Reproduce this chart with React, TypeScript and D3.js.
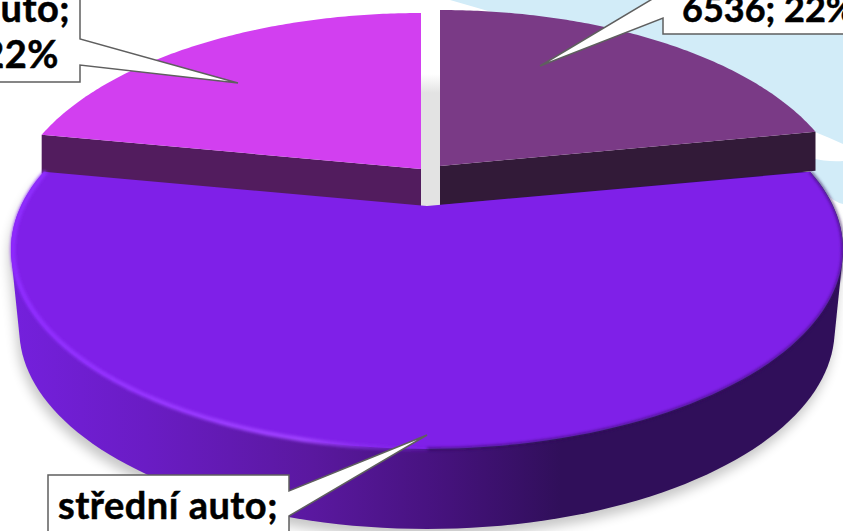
import * as d3 from "d3";

const categories = ["velké auto", "střední auto", "malé auto"];
const values = [6536, 16637, 6536];
const percents = [22, 56, 22];

const topColors = ["#7a3a86", "#7f20e8", "#d23ff0"];
const wallColors = ["#321a38", "#5a1aa0", "#521c5e"];

const width = 843;
const height = 531;
const fontFamily = "Lato, 'Open Sans', sans-serif";

// tilted disc, back of the circle is further away
const discX = 406;
const discY = 190;
const tilt = 0.218;

// apex of each slice on the page, the back two are pulled up and out
const apex = [
  { x: 440, y: 166, k: 0.98 },
  { x: 427, y: 206, k: 1 },
  { x: 421, y: 169, k: 0.99 },
];
const backWall = 39;
const frontWall = 80;

type Pt = [number, number];

const project = (angle: number, cx: number, cy: number, k = 1): Pt => {
  const u = Math.sin(angle);
  const v = -Math.cos(angle);
  const w = 1 - tilt * v;
  return [cx + (k * discX * u) / w, cy + (discY * v) / w];
};

const arcPoints = (a0: number, a1: number, cx: number, cy: number, k = 1): Pt[] =>
  d3.range(0, 121).map((i) => project(a0 + ((a1 - a0) * i) / 120, cx, cy, k));

const slices = d3.pie<number>().sort(null)(values);
const line = d3.line<Pt>();
const closed = (pts: Pt[]) => line(pts) + "Z";

const big = slices[1];
const bigTop = arcPoints(big.startAngle, big.endAngle, apex[1].x, apex[1].y);
const bigBottom = arcPoints(big.startAngle, big.endAngle, apex[1].x, apex[1].y + frontWall, 0.98);
const hull = d3.polygonHull([...bigTop, ...bigBottom]) as Pt[];

const rimLeft = arcPoints(Math.PI, big.endAngle, apex[1].x, apex[1].y);
const rimRight = arcPoints(big.startAngle, Math.PI, apex[1].x, apex[1].y);

export default function App() {
  return (
    <svg
      width={width}
      height={height}
      viewBox={`0 0 ${width} ${height}`}
      style={{ position: "fixed", left: 0, top: 0, background: "#fff" }}
    >
      <defs>
        <linearGradient id="wall" gradientUnits="userSpaceOnUse" x1={15} x2={843} y1={0} y2={0}>
          <stop offset="0" stopColor="#7420dc" />
          <stop offset="0.16" stopColor="#6a1cc4" />
          <stop offset="0.36" stopColor="#5a189f" />
          <stop offset="0.52" stopColor="#45127c" />
          <stop offset="0.66" stopColor="#300f5a" />
          <stop offset="1" stopColor="#300f5a" />
        </linearGradient>
        <linearGradient id="rimLight" gradientUnits="userSpaceOnUse" x1={11} x2={427} y1={0} y2={0}>
          <stop offset="0" stopColor="#8f2cff" />
          <stop offset="0.7" stopColor="#9f42ff" />
          <stop offset="1" stopColor="#7f20e8" stopOpacity="0.2" />
        </linearGradient>
        <linearGradient id="gap" x1="0" x2="0" y1="0" y2="1">
          <stop offset="0" stopColor="#ffffff" />
          <stop offset="0.14" stopColor="#e3e3e3" />
          <stop offset="1" stopColor="#e3e3e3" />
        </linearGradient>
        <filter id="blurWide" x="-10%" y="-10%" width="120%" height="120%">
          <feGaussianBlur stdDeviation="6" />
        </filter>
        <filter id="blurRim" x="-5%" y="-5%" width="110%" height="110%">
          <feGaussianBlur stdDeviation="1.6" />
        </filter>
      </defs>

      {/* background bands */}
      <path d="M450,0 L843,0 L843,144 Q830,138 815,132 L600,45 Q520,20 450,0Z" fill="#d2ecf8" />
      <path d="M812,158 Q826,162 843,161 L843,204 Q825,200 810,170Z" fill="#d2ecf8" />

      {/* shadow under the big slice */}
      <path d={closed(hull)} transform="translate(-2,8)" fill="#000" opacity={0.22} filter="url(#blurWide)" />
      <path d={closed(hull)} fill="url(#wall)" />
      <rect x={apex[2].x} y={0} width={apex[0].x - apex[2].x} height={apex[1].y + 2} fill="#fff" />
      <rect x={apex[2].x} y={74} width={apex[0].x - apex[2].x} height={apex[1].y - 72} fill="url(#gap)" />

      {/* back slices */}
      {[0, 2].map((i) => {
        const s = slices[i];
        const a = apex[i];
        const rim = arcPoints(s.startAngle, s.endAngle, a.x, a.y, a.k);
        const corner = i === 0 ? rim[rim.length - 1] : rim[0];
        const face: Pt[] = [[a.x, a.y], ...rim];
        return (
          <g key={categories[i]}>
            <path
              d={closed([
                [a.x, a.y],
                corner,
                [corner[0], corner[1] + backWall],
                [a.x, a.y + backWall],
              ])}
              fill={wallColors[i]}
            />
            <path d={closed(face)} fill={topColors[i]} />
          </g>
        );
      })}

      {/* big slice */}
      <path d={closed([[apex[1].x, apex[1].y], ...bigTop])} fill={topColors[1]} />
      <path d={line(rimLeft)!} fill="none" stroke="url(#rimLight)" strokeWidth={4.5} filter="url(#blurRim)" transform="translate(2,0)" />
      <path d={line(rimRight)!} fill="none" stroke="#300f5a" strokeOpacity={0.65} strokeWidth={3} filter="url(#blurRim)" />

      {/* callouts */}
      <g fill="#fff" stroke="#5f5f5f" strokeWidth={1.5} strokeLinejoin="miter">
        <path d="M-10,82 L80,82 L80,65 L238,83 L80,39 L80,-10 L-10,-10Z" />
        <path d="M663,34 L663,18 L540,66 L654,-2 L860,-2 L860,34Z" />
        <path d="M48,540 L48,475 L289,475 L289,491 L427,435 L289,516 L289,540Z" />
      </g>

      <g fontFamily={fontFamily} fontWeight={700} fontSize={38} letterSpacing={0.5} fill="#000" stroke="#000" strokeWidth={0.5}>
        <text x={70} y={22} textAnchor="end">{`${categories[2]};`}</text>
        <text x={59} y={68} textAnchor="end">{`${values[2]}; ${percents[2]}%`}</text>
        <text x={682} y={22} fontSize={36} letterSpacing={0}>{`${values[0]}; ${percents[0]}%`}</text>
        <text x={58} y={519}>{`${categories[1]};`}</text>
      </g>
    </svg>
  );
}
